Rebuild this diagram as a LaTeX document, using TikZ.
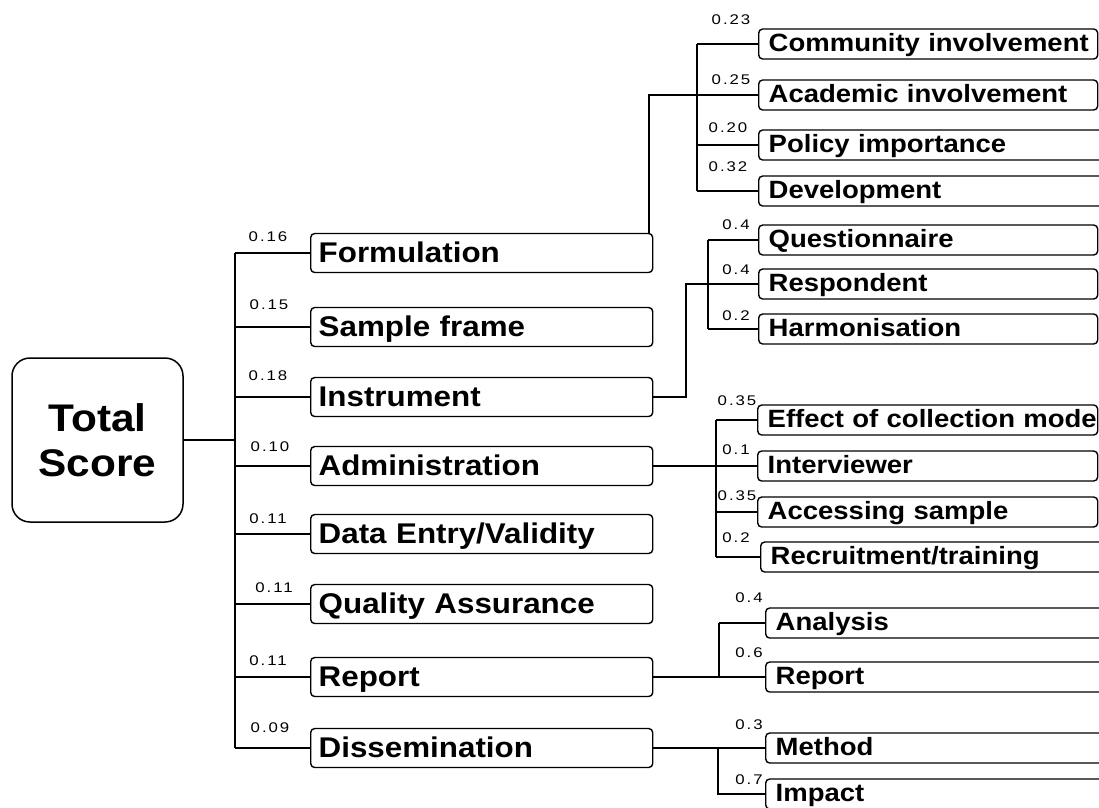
\documentclass[tikz,border=0pt]{standalone}
\usepackage{fontspec}
\setmainfont{Liberation Sans}
\newfontfamily\stretchsans[FakeStretch=1.1]{Liberation Sans}
\newfontfamily\wtsans[FakeStretch=1.2,LetterSpace=14]{Liberation Sans}
\newcommand\fmain{\stretchsans\bfseries\fontsize{28.5}{30}\selectfont}
\newcommand\fsub{\stretchsans\bfseries\fontsize{25}{27}\selectfont}
\newcommand\ftot{\stretchsans\bfseries\fontsize{38.5}{45}\selectfont}
\newcommand\fwt{\wtsans\fontsize{14}{16}\selectfont}
\tikzset{
  mainbox/.style={draw, line width=1.4pt, rounded corners=4pt, anchor=west,
    text width=326pt, inner xsep=8pt, inner ysep=0pt, text height=29pt,
    text depth=10pt, align=left, font=\fmain},
  subbox/.style={draw, line width=1.4pt, rounded corners=4pt, anchor=west,
    inner xsep=10pt, inner ysep=0pt, text height=22pt, text depth=8pt,
    align=left, font=\fsub},
  wt/.style={inner sep=0pt, font=\fwt},
  conn/.style={line width=1.3pt},
}
\begin{document}
\begin{tikzpicture}[x=1pt,y=-1pt]
\useasboundingbox (0,0) rectangle (1099,807);
\clip (0,0) rectangle (1099,807);
\fill[white] (0,0) rectangle (1099,807);

% root
\node[draw, line width=1.5pt, rounded corners=18pt, minimum width=171pt,
  minimum height=164pt, align=center, font=\ftot, inner sep=0pt] (total) at (97.5,440) {Total\\Score};

% main boxes
\node[mainbox] (form) at (310,253) {Formulation};
\node[mainbox] (samp) at (310,327) {Sample frame};
\node[mainbox] (inst) at (310,397) {Instrument};
\node[mainbox] (admn) at (310,466) {Administration};
\node[mainbox] (data) at (310,534) {Data Entry/Validity};
\node[mainbox] (qual) at (310,604) {Quality Assurance};
\node[mainbox] (repo) at (310,677) {Report};
\node[mainbox] (diss) at (310,748) {Dissemination};

% trunk
\coordinate (tj) at (235,440);
\coordinate (tt) at (235,253);
\coordinate (tb) at (235,748);
\draw[conn] (total.east) -- (tj);
\draw[conn] (tt) -- (tb);
\foreach \n in {form,samp,inst,admn,data,qual,repo,diss}
  \draw[conn] (\n.west -| tt) -- (\n.west);

% main weights
\node[wt] (w1) at (268,237) {0.16};
\node[wt] (w2) at (269,305) {0.15};
\node[wt] (w3) at (268,376) {0.18};
\node[wt] (w4) at (270,447) {0.10};
\node[wt] (w5) at (268,519) {0.11};
\node[wt] (w6) at (274,588) {0.11};
\node[wt] (w7) at (268,661) {0.11};
\node[wt] (w8) at (270,728) {0.09};

% Formulation subtree
\node[subbox, text width=319pt] (comm) at (758,44) {\mbox{Community involvement}};
\node[subbox, text width=319pt] (acad) at (758,95) {\mbox{Academic involvement}};
\node[subbox, text width=337pt] (poli) at (758,145) {Policy importance};
\node[subbox, text width=337pt] (devt) at (758,191) {Development};
\coordinate (fa) at (649,95);
\coordinate (fb) at (697,95);
\draw[conn] (fa |- form.north) -- (fa) -- (fb);
\draw[conn] (comm.west -| fb) -- (devt.west -| fb);
\foreach \n in {comm,acad,poli,devt}
  \draw[conn] (\n.west -| fb) -- (\n.west);
\node[wt] (s1) at (731,20) {0.23};
\node[wt] (s2) at (731,80) {0.25};
\node[wt] (s3) at (728,128) {0.20};
\node[wt] (s4) at (728,167) {0.32};

% Instrument subtree
\node[subbox, text width=319pt] (ques) at (758,240) {Questionnaire};
\node[subbox, text width=319pt] (resp) at (758,284) {Respondent};
\node[subbox, text width=319pt] (harm) at (758,329) {Harmonisation};
\coordinate (ia) at (686,397);
\coordinate (ib) at (708,240);
\draw[conn] (inst.east) -- (ia) -- (resp.west -| ia) -- (resp.west);
\draw[conn] (ques.west -| ib) -- (harm.west -| ib);
\draw[conn] (ques.west -| ib) -- (ques.west);
\draw[conn] (harm.west -| ib) -- (harm.west);
\node[wt] (s5) at (736,225) {0.4};
\node[wt] (s6) at (736,270) {0.4};
\node[wt] (s7) at (736,316) {0.2};

% Administration subtree
\node[subbox, text width=320pt] (effe) at (757,420) {\mbox{Effect of collection mode}};
\node[subbox, text width=320pt] (intv) at (757,466) {Interviewer};
\node[subbox, text width=320pt] (acce) at (757,512) {Accessing sample};
\node[subbox, text width=335pt] (recr) at (760,557) {Recruitment/training};
\coordinate (aa) at (716,420);
\draw[conn] (admn.east) -- (intv.west);
\draw[conn] (effe.west -| aa) -- (recr.west -| aa);
\foreach \n in {effe,acce,recr}
  \draw[conn] (\n.west -| aa) -- (\n.west);
\node[wt] (s8) at (737,401) {0.35};
\node[wt] (s9) at (736,450) {0.1};
\node[wt] (s10) at (737,496) {0.35};
\node[wt] (s11) at (736,538) {0.2};

% Report subtree
\node[subbox, text width=330pt] (anal) at (765,623) {Analysis};
\node[subbox, text width=330pt] (rept) at (765,677) {Report};
\coordinate (ra) at (719,623);
\draw[conn] (repo.east) -- (rept.west);
\draw[conn] (anal.west -| ra) -- (rept.west -| ra);
\draw[conn] (anal.west -| ra) -- (anal.west);
\node[wt] (s12) at (749,598) {0.4};
\node[wt] (s13) at (749,653) {0.6};

% Dissemination subtree
\node[subbox, text width=330pt] (meth) at (765,748) {Method};
\node[subbox, text width=330pt] (impa) at (765,794) {Impact};
\coordinate (da) at (718,748);
\draw[conn] (diss.east) -- (meth.west);
\draw[conn] (meth.west -| da) -- (impa.west -| da) -- (impa.west);
\node[wt] (s14) at (749,725) {0.3};
\node[wt] (s15) at (749,780) {0.7};
\end{tikzpicture}
\end{document}
